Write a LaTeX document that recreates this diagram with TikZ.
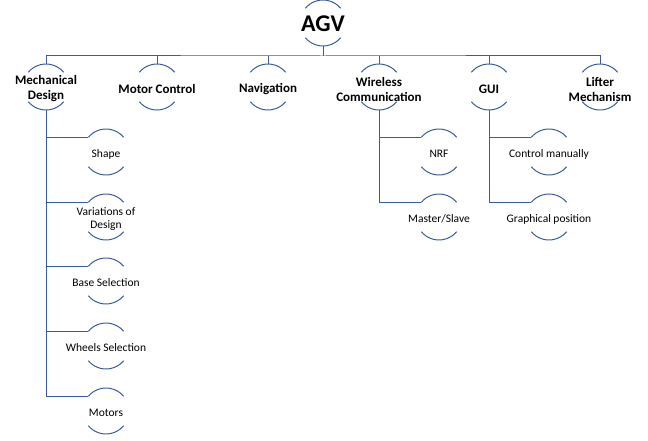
\documentclass[tikz,border=0pt]{standalone}
\usepackage{fontspec}
\setmainfont{Carlito}
\definecolor{linkblue}{RGB}{58,92,158}
\begin{document}
\begin{tikzpicture}[x=1pt,y=1pt,
		hub/.style={circle,minimum size=46pt,inner sep=0pt,outer sep=0pt},
		rootnode/.style={hub,label={[yshift=-1pt,font=\bfseries\fontsize{24}{28}\selectfont]center:#1}},
		mainnode/.style={hub,label={[yshift=-2pt,align=center,font=\bfseries\fontsize{13}{15}\selectfont]center:#1}},
		subnode/.style={hub,label={[yshift=-2pt,align=center,font=\fontsize{11.5}{13.5}\selectfont]center:#1}},
		link/.style={draw=linkblue,line width=1pt}]
					\useasboundingbox (0,0) rectangle (648,-441);
					% top
					\node[rootnode=AGV] (agv) at (323,-23) {};
					\coordinate (bus) at (323,-56);
					% first level
					\node[mainnode=Mechanical\\Design] (mech) at (46,-87) {};
					\node[mainnode=Motor Control] (motor) at (157,-87) {};
					\node[mainnode=Navigation] (nav) at (268,-87) {};
					\node[mainnode=Wireless\\Communication] (wless) at (379,-87) {};
					\node[mainnode=GUI] (gui) at (489,-87) {};
					\node[mainnode=Lifter\\Mechanism] (lift) at (600,-87) {};
					% second level
					\node[subnode=Shape] (shape) at (106,-152) {};
					\node[subnode=Variations of\\Design] (var) at (106,-217) {};
					\node[subnode=Base Selection] (base) at (106,-281) {};
					\node[subnode=Wheels Selection] (wheel) at (106,-346) {};
					\node[subnode=Motors] (motors) at (106,-411) {};
					\node[subnode=NRF] (nrf) at (439,-152) {};
					\node[subnode=Master/Slave] (master) at (439,-217) {};
					\node[subnode=Control manually] (manual) at (549,-152) {};
					\node[subnode=Graphical position] (graph) at (549,-217) {};
					% arcs
					\foreach \n in {agv,mech,motor,nav,wless,gui,lift,shape,var,base,wheel,motors,nrf,master,manual,graph}
						\draw[link] (\n.140) arc (140:40:23pt) (\n.220) arc (220:320:23pt);
					% connectors
					\draw[link] (agv.south) -- (bus);
					\draw[link] (mech.north) |- (bus) -| (lift.north);
					\foreach \n in {motor,nav,wless,gui}
						\draw[link] (\n.north) -- (\n.north |- bus);
					\foreach \n in {shape,var,base,wheel,motors}
						\draw[link] (mech.south) |- (\n.140);
					\foreach \n in {nrf,master}
						\draw[link] (wless.south) |- (\n.140);
					\foreach \n in {manual,graph}
						\draw[link] (gui.south) |- (\n.140);
				\end{tikzpicture}
\end{document}
